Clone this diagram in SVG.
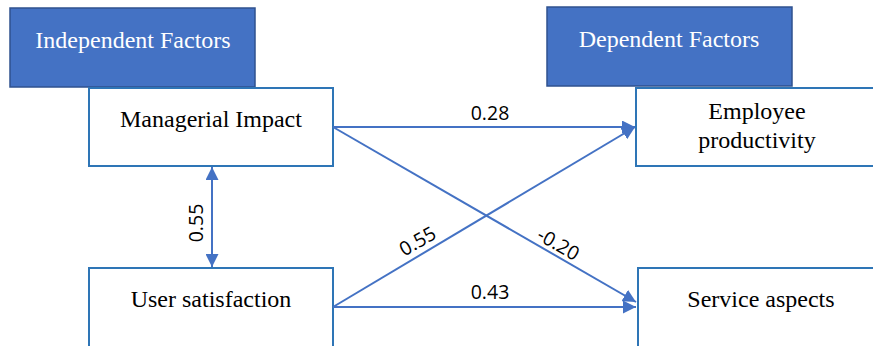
<svg xmlns="http://www.w3.org/2000/svg" width="873" height="346" viewBox="0 0 873 346">
<style>
.hdr{fill:#4472C4;stroke:#2F528F;stroke-width:1.5}
.box{fill:#fff;stroke:#2E75B6;stroke-width:2}
.ht{font-family:"Liberation Serif","DejaVu Serif",serif;font-size:24px;fill:#fff;text-anchor:middle}
.bt{font-family:"Liberation Serif","DejaVu Serif",serif;font-size:24px;fill:#000;text-anchor:middle}
.ln{stroke:#4472C4;stroke-width:2;fill:none}
.lb{font-family:"Open Sans","Liberation Sans",sans-serif;font-size:19.5px;fill:#000;text-anchor:middle}
</style>
<defs>
<marker id="ah" viewBox="0 0 10 10" refX="10" refY="5" markerWidth="6.5" markerHeight="6.5" orient="auto-start-reverse" markerUnits="strokeWidth">
<path d="M0,0 L10,5 L0,10 z" fill="#4472C4"/>
</marker>
</defs>
<rect width="873" height="346" fill="#fff"/>
<g id="hdr-independent"><rect class="hdr" x="10" y="8" width="245" height="79"/><text class="ht" x="133" y="48">Independent Factors</text></g>
<g id="hdr-dependent"><rect class="hdr" x="547" y="7" width="245" height="79"/><text class="ht" x="669" y="47">Dependent Factors</text></g>
<g id="managerial"><rect class="box" x="89" y="88" width="244" height="78"/><text class="bt" x="211" y="127">Managerial Impact</text></g>
<g id="employee"><rect class="box" x="636" y="88" width="240" height="78"/><text class="bt" x="757" y="119">Employee</text><text class="bt" x="757" y="148">productivity</text></g>
<g id="user"><rect class="box" x="89" y="268" width="244" height="82"/><text class="bt" x="211" y="307">User satisfaction</text></g>
<g id="service"><rect class="box" x="638" y="268" width="240" height="82"/><text class="bt" x="761" y="307">Service aspects</text></g>
<g id="connectors">
<line class="ln" x1="212" y1="167" x2="212" y2="267" marker-start="url(#ah)" marker-end="url(#ah)"/>
<line class="ln" x1="333" y1="127" x2="635" y2="127" marker-end="url(#ah)"/>
<line class="ln" x1="333" y1="127" x2="636" y2="302" marker-end="url(#ah)"/>
<line class="ln" x1="333" y1="307" x2="635" y2="127" marker-end="url(#ah)"/>
<line class="ln" x1="333" y1="307" x2="636" y2="307" marker-end="url(#ah)"/>
</g>
<g id="labels">
<text class="lb" x="490" y="120">0.28</text>
<text class="lb" x="490" y="299">0.43</text>
<text class="lb" transform="translate(421,247) rotate(-30)">0.55</text>
<text class="lb" transform="translate(555,250) rotate(30)">-0.20</text>
<text class="lb" transform="translate(203,223) rotate(-90)">0.55</text>
</g>
</svg>
